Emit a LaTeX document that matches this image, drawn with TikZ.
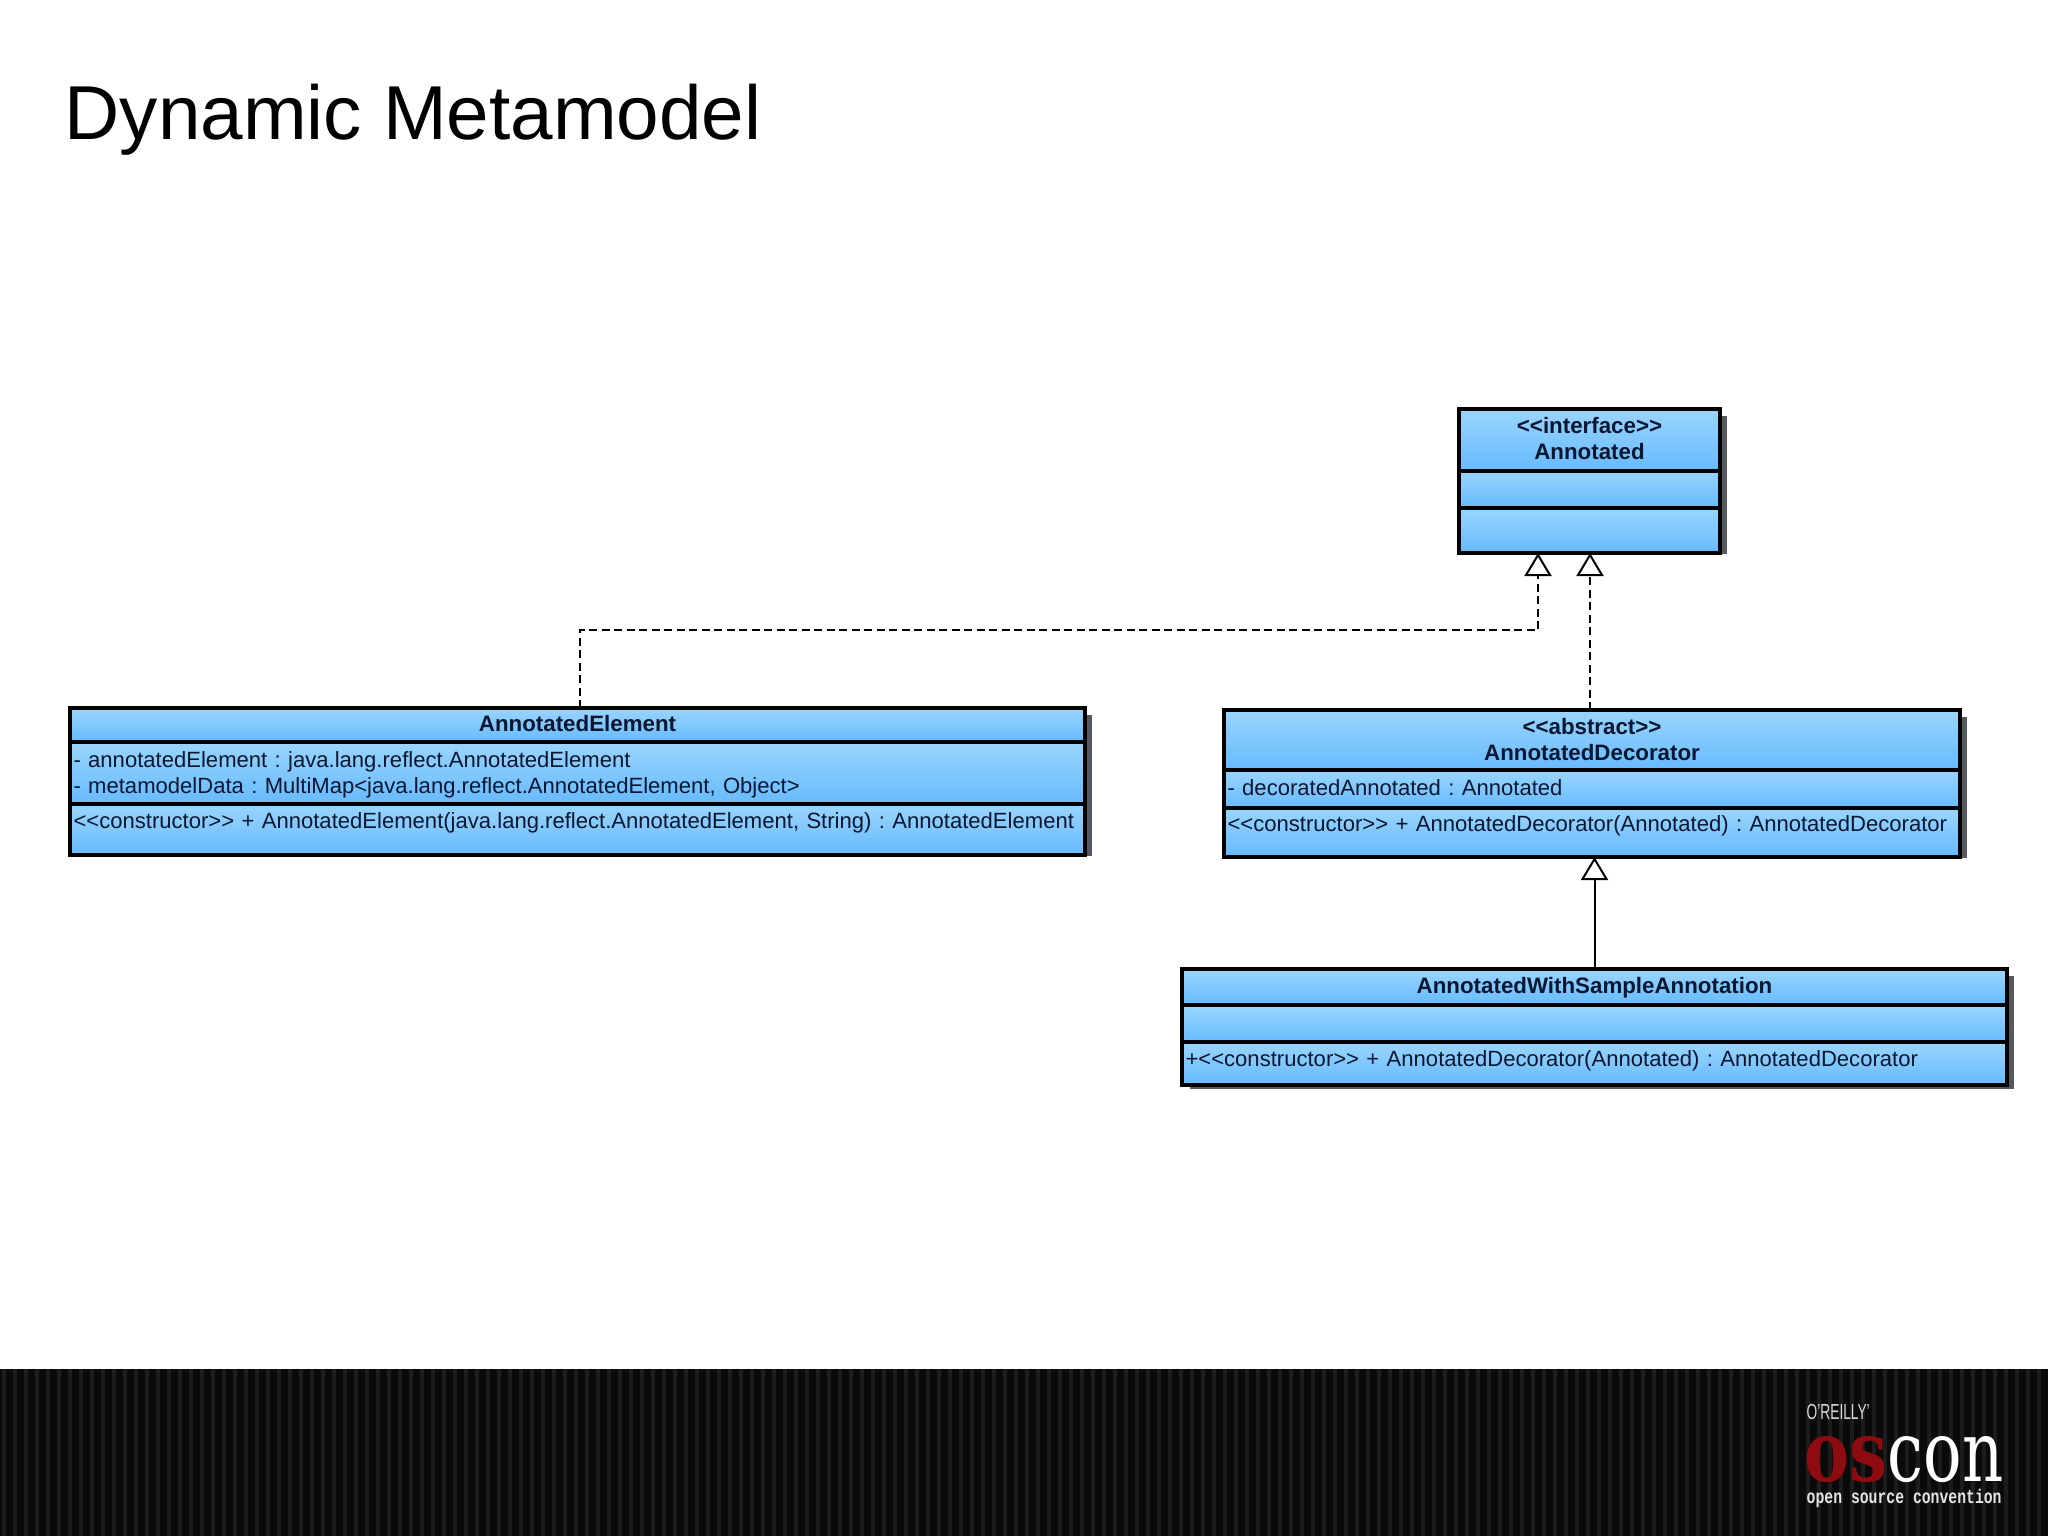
\documentclass[tikz,border=0pt]{standalone}
\usepackage{fontspec}
\setmainfont{Liberation Sans}
\newfontfamily\logoserif{DejaVu Serif}
\newfontfamily\logomono{Liberation Mono}
\usetikzlibrary{arrows.meta,backgrounds}
\definecolor{umlink}{HTML}{0B1730}
\definecolor{umltop}{HTML}{9AD5FD}
\definecolor{umlbot}{HTML}{66BAFF}
\definecolor{umlshade}{HTML}{55595E}
\definecolor{footbg}{HTML}{0A0A0A}
\definecolor{footline}{HTML}{1C1C1C}
\definecolor{logored}{HTML}{8E0B10}
\tikzset{
  umlbox/.style={draw=black, line width=0.35mm, top color=umltop, bottom color=umlbot, anchor=north west, outer sep=0pt, inner ysep=0pt, inner xsep=0.35mm, text=umlink, font=\fontsize{6.28}{7.4}\selectfont\frenchspacing},
  umlhead/.style={umlbox, align=center, font=\fontsize{6.35}{7.4}\selectfont\bfseries\frenchspacing},
  umlmember/.style={umlbox, align=left},
  realizes/.style={-{Triangle[open, fill=white, length=2.3mm, width=2.7mm, line width=0.2mm]}, dashed, dash pattern=on 0.8mm off 0.45mm, line width=0.2mm, color=black},
  extends/.style={-{Triangle[open, fill=white, length=2.3mm, width=2.7mm, line width=0.2mm]}, line width=0.2mm, color=black},
}

\begin{document}
\begin{tikzpicture}[x=0.1mm, y=-0.1mm]
    \useasboundingbox (0,0) rectangle (2048,1536);
    \node[anchor=base west, inner sep=0pt, font=\fontsize{21.75}{26}\selectfont] (title) at (64,139.5) {Dynamic Metamodel};
    % class compartments
    \foreach \n/\s/\x/\y/\w/\h/\b/\t in {
      annotatedHead/umlhead/1459/409/261/62/24/{<{}<interface>{}>\\Annotated},
      annotatedAttr/umlmember/1459/471/261/37/23/{},
      annotatedOps/umlmember/1459/508/261/45/23/{},
      elementHead/umlhead/70/708/1015/34/23/{AnnotatedElement},
      elementAttr/umlmember/70/742/1015/62/25/{- annotatedElement : java.lang.reflect.AnnotatedElement\\- metamodelData : MultiMap<java.lang.reflect.AnnotatedElement, Object>},
      elementOps/umlmember/70/804/1015/51/24/{<{}<constructor>{}> + AnnotatedElement(java.lang.reflect.AnnotatedElement, String) : AnnotatedElement},
      decoratorHead/umlhead/1224/710/736/60/24/{<{}<abstract>{}>\\AnnotatedDecorator},
      decoratorAttr/umlmember/1224/770/736/38/25/{- decoratedAnnotated : Annotated},
      decoratorOps/umlmember/1224/808/736/49/23/{<{}<constructor>{}> + AnnotatedDecorator(Annotated) : AnnotatedDecorator},
      sampleHead/umlhead/1182/969/825/36/24/{AnnotatedWithSampleAnnotation},
      sampleAttr/umlmember/1182/1005/825/37/23/{},
      sampleOps/umlmember/1182/1042/825/43/24/{+<{}<constructor>{}> + AnnotatedDecorator(Annotated) : AnnotatedDecorator}}
      { \node[\s, text width=(\w-7)*0.1mm, text height=\b*0.1mm, text depth=(\h-\b)*0.1mm] (\n) at (\x,\y) {\t}; }
    % shadows behind the classes
    \begin{pgfonlayer}{background}
      \foreach \a/\z/\d in {annotatedHead/annotatedOps/1, elementHead/elementOps/1, decoratorHead/decoratorOps/1, sampleHead/sampleOps/4}
        { \fill[umlshade] ([shift={(8,7)}]\a.north west) rectangle ([shift={(7,\d)}]\z.south east); }
    \end{pgfonlayer}
    % connectors
    \coordinate (bend) at (1538,630);
    \draw[realizes] ([xshift=0.2mm]elementHead.north) |- (bend) -- (bend |- annotatedOps.south);
    \draw[realizes] ([xshift=-0.2mm]decoratorHead.north) -- ([xshift=-0.2mm]decoratorHead.north |- annotatedOps.south);
    \draw[extends] (sampleHead.north) -- (sampleHead.north |- decoratorOps.south);
    % footer band
    \fill[footbg] (0,1369) rectangle (2048,1536);
    \foreach \x in {4,15,...,2048}
      { \draw[footline, line width=0.4mm] (\x,1369) -- (\x,1536); }
    \node[anchor=base west, inner sep=0pt, text=white!85!black, font=\fontsize{6.2}{7}\selectfont] (oreilly) at (1806,1419) {\scalebox{0.63}[1]{O'REILLY'}};
    \node[anchor=base west, inner sep=0pt, text=logored, font=\logoserif\fontsize{24}{26}\selectfont\bfseries] (os) at (1804,1481) {\scalebox{0.8}[1]{os}};
    \node[anchor=base west, inner sep=0pt, text=white, font=\logoserif\fontsize{24}{26}\selectfont] (con) at (1887,1481) {\scalebox{0.76}[1]{con}};
    \node[anchor=base west, inner sep=0pt, text=white!90!black, font=\logomono\fontsize{5.6}{6}\selectfont\bfseries] (tagline) at (1806,1503) {\scalebox{0.75}[1]{open source convention}};
  \end{tikzpicture}
\end{document}
